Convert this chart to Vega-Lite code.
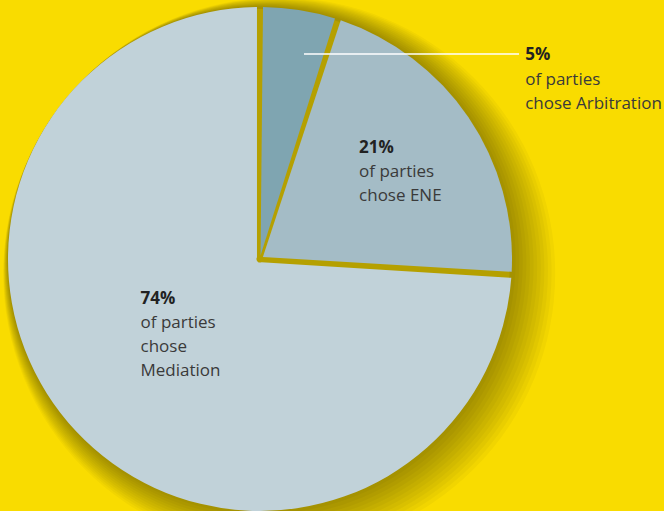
{
  "$schema": "https://vega.github.io/schema/vega-lite/v6.json",
  "autosize": {"type": "none"},
  "padding": {"left": 0, "top": 0, "right": 144, "bottom": 0},
  "width": 520,
  "height": 518,
  "background": "#F9DC00",
  "config": {"view": {"stroke": null}},
  "layer": [
    {"data": {"values": [{}]}, "mark": {"type": "arc", "theta": 0, "theta2": 6.2832, "outerRadius": 276, "xOffset": 19.2, "yOffset": 14.4, "color": "#000000", "opacity": 0.03}, "encoding": {}},
    {"data": {"values": [{}]}, "mark": {"type": "arc", "theta": 0, "theta2": 6.2832, "outerRadius": 274, "xOffset": 17.6, "yOffset": 13.2, "color": "#000000", "opacity": 0.03}, "encoding": {}},
    {"data": {"values": [{}]}, "mark": {"type": "arc", "theta": 0, "theta2": 6.2832, "outerRadius": 272, "xOffset": 16, "yOffset": 12, "color": "#000000", "opacity": 0.03}, "encoding": {}},
    {"data": {"values": [{}]}, "mark": {"type": "arc", "theta": 0, "theta2": 6.2832, "outerRadius": 270, "xOffset": 14.4, "yOffset": 10.8, "color": "#000000", "opacity": 0.03}, "encoding": {}},
    {"data": {"values": [{}]}, "mark": {"type": "arc", "theta": 0, "theta2": 6.2832, "outerRadius": 268, "xOffset": 12.8, "yOffset": 9.6, "color": "#000000", "opacity": 0.03}, "encoding": {}},
    {"data": {"values": [{}]}, "mark": {"type": "arc", "theta": 0, "theta2": 6.2832, "outerRadius": 266, "xOffset": 11.2, "yOffset": 8.4, "color": "#000000", "opacity": 0.03}, "encoding": {}},
    {"data": {"values": [{}]}, "mark": {"type": "arc", "theta": 0, "theta2": 6.2832, "outerRadius": 264, "xOffset": 9.6, "yOffset": 7.2, "color": "#000000", "opacity": 0.03}, "encoding": {}},
    {"data": {"values": [{}]}, "mark": {"type": "arc", "theta": 0, "theta2": 6.2832, "outerRadius": 262, "xOffset": 8, "yOffset": 6, "color": "#000000", "opacity": 0.03}, "encoding": {}},
    {"data": {"values": [{}]}, "mark": {"type": "arc", "theta": 0, "theta2": 6.2832, "outerRadius": 260, "xOffset": 6.4, "yOffset": 4.8, "color": "#000000", "opacity": 0.03}, "encoding": {}},
    {"data": {"values": [{}]}, "mark": {"type": "arc", "theta": 0, "theta2": 6.2832, "outerRadius": 258, "xOffset": 4.8, "yOffset": 3.6, "color": "#000000", "opacity": 0.03}, "encoding": {}},
    {"data": {"values": [{}]}, "mark": {"type": "arc", "theta": 0, "theta2": 6.2832, "outerRadius": 256, "xOffset": 3.2, "yOffset": 2.4, "color": "#000000", "opacity": 0.03}, "encoding": {}},
    {"data": {"values": [{}]}, "mark": {"type": "arc", "theta": 0, "theta2": 6.2832, "outerRadius": 254, "xOffset": 1.6, "yOffset": 1.2, "color": "#000000", "opacity": 0.03}, "encoding": {}},
    {"data": {"values": [{}]}, "mark": {"type": "arc", "theta": 0, "theta2": 6.2832, "outerRadius": 250, "color": "#B5A000", "opacity": 1}, "encoding": {}},
    {
      "data": {"values": [
        {"method": "Arbitration", "value": 5, "idx": 1, "pct": "5%", "desc": "of parties\nchose Arbitration"},
        {"method": "ENE", "value": 21, "idx": 2, "pct": "21%", "desc": "of parties\nchose ENE"},
        {"method": "Mediation", "value": 74, "idx": 3, "pct": "74%", "desc": "of parties\nchose\nMediation"}
      ]},
      "encoding": {
        "theta": {"field": "value", "type": "quantitative", "stack": true},
        "order": {"field": "idx", "type": "quantitative"},
        "detail": {"field": "method", "type": "nominal"}
      },
      "layer": [
        {
          "mark": {"type": "arc", "outerRadius": 252, "innerRadius": 3.5, "padAngle": 0.024},
          "encoding": {
            "color": {"field": "method", "type": "nominal", "legend": null,
              "scale": {"domain": ["Arbitration", "ENE", "Mediation"], "range": ["#7FA5B1", "#A4BCC6", "#C1D2D9"]}}
          }
        },
        {
          "mark": {"type": "text", "radius": 212, "dx": 232, "dy": 10, "align": "left", "baseline": "alphabetic", "font": "Open Sans", "fontSize": 17, "fontWeight": "bold", "color": "#222222"},
          "encoding": {"text": {"condition": {"test": "datum.method === 'Arbitration'", "field": "pct"}, "value": ""}}
        },
        {
          "mark": {"type": "text", "radius": 212, "dx": 232, "dy": 35, "align": "left", "baseline": "alphabetic", "font": "Open Sans", "fontSize": 17, "lineBreak": "\n", "lineHeight": 24, "color": "#3A3A3A"},
          "encoding": {"text": {"condition": {"test": "datum.method === 'Arbitration'", "field": "desc"}, "value": ""}}
        },
        {
          "mark": {"type": "text", "radius": 150, "dx": -25, "dy": -22, "align": "left", "baseline": "alphabetic", "font": "Open Sans", "fontSize": 17, "fontWeight": "bold", "color": "#222222"},
          "encoding": {"text": {"condition": {"test": "datum.method === 'ENE'", "field": "pct"}, "value": ""}}
        },
        {
          "mark": {"type": "text", "radius": 150, "dx": -25, "dy": 2, "align": "left", "baseline": "alphabetic", "font": "Open Sans", "fontSize": 17, "lineBreak": "\n", "lineHeight": 24, "color": "#3A3A3A"},
          "encoding": {"text": {"condition": {"test": "datum.method === 'ENE'", "field": "desc"}, "value": ""}}
        },
        {
          "mark": {"type": "text", "radius": 120, "dx": -32, "dy": -37, "align": "left", "baseline": "alphabetic", "font": "Open Sans", "fontSize": 17, "fontWeight": "bold", "color": "#222222"},
          "encoding": {"text": {"condition": {"test": "datum.method === 'Mediation'", "field": "pct"}, "value": ""}}
        },
        {
          "mark": {"type": "text", "radius": 120, "dx": -32, "dy": -13, "align": "left", "baseline": "alphabetic", "font": "Open Sans", "fontSize": 17, "lineBreak": "\n", "lineHeight": 24, "color": "#3A3A3A"},
          "encoding": {"text": {"condition": {"test": "datum.method === 'Mediation'", "field": "desc"}, "value": ""}}
        }
      ]
    },
    {"data": {"values": [{}]}, "mark": {"type": "rule", "color": "#FFFFFF", "strokeWidth": 1.3},
     "encoding": {"x": {"value": 304}, "x2": {"value": 519}, "y": {"value": 54}}}
  ]
}
